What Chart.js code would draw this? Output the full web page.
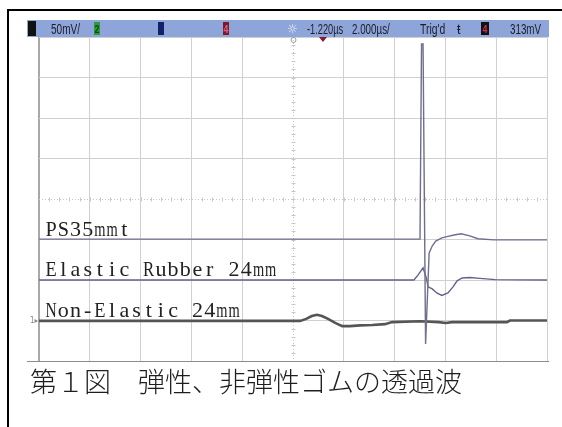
<!DOCTYPE html>
<html>
<head>
<meta charset="utf-8">
<script src="https://cdn.jsdelivr.net/npm/chart.js@4.4.0/dist/chart.umd.min.js"></script>
<style>
html, body { margin: 0; padding: 0; background: #fff; }
canvas { display: block; }
</style>
</head>
<body>
<canvas id="scopeChart" width="562" height="427"></canvas>
<script>
// trace values, in screen divisions (x: 0..10, y: -4..4)
let psX = [0, 7.50, 7.53, 7.56, 7.61, 7.68, 7.74, 7.81, 7.93, 8.03, 8.17, 8.31, 8.48, 8.64, 8.96, 9.17, 10];
let psY = [-0.99, -0.99, 3.83, 3.83, -3.58, -1.33, -1.16, -1.04, -0.96, -0.93, -0.89, -0.86, -0.91, -0.98, -1.01, -1.01, -1.01];
let elasticX = [0, 7.38, 7.46, 7.56, 7.62, 7.66, 7.74, 7.83, 7.93, 8.05, 8.15, 8.23, 8.33, 8.48, 8.68, 8.98, 10];
let elasticY = [-2.0, -2.0, -1.88, -1.70, -1.93, -2.17, -2.22, -2.32, -2.38, -2.32, -2.17, -2.02, -1.95, -1.94, -1.96, -1.99, -2.0];
let nonElasticX = [0, 5.14, 5.26, 5.37, 5.47, 5.57, 5.69, 5.83, 5.97, 6.12, 6.32, 6.56, 6.81, 6.95, 7.50, 7.87, 8.01, 8.13, 9.21, 9.27, 10];
let nonElasticY = [-3.01, -3.01, -2.96, -2.89, -2.86, -2.89, -2.96, -3.06, -3.14, -3.14, -3.12, -3.11, -3.09, -3.04, -3.02, -3.04, -3.06, -3.04, -3.04, -3.0, -3.0];

let traceLabels = ['PS35mmt', 'Elastic Rubber 24mm', 'Non-Elastic 24mm'];
let traceLevels = [-1, -2, -3];
let caption = '第１図　弾性、非弾性ゴムの透過波';
let triggerPos = 5.59;

function toPoints(xs, ys) {
	return xs.map(function (v, i) { return { x: v, y: ys[i] }; });
}

function drawText(ctx, text, x, y, font, color, sx) {
	ctx.save();
	ctx.font = font;
	ctx.fillStyle = color;
	ctx.textBaseline = 'alphabetic';
	ctx.translate(x, y);
	ctx.scale(sx || 1, 1);
	ctx.fillText(text, 0, 0);
	ctx.restore();
}

// serif text set on a fixed pitch, like the half-width mincho of the original
function drawMono(ctx, text, x, y, pitch) {
	ctx.save();
	ctx.font = '22px "Liberation Serif"';
	ctx.fillStyle = '#222';
	ctx.textAlign = 'center';
	ctx.textBaseline = 'alphabetic';
	for (var i = 0; i < text.length; i++) {
		var w = ctx.measureText(text[i]).width;
		var sx = w > pitch * 0.92 ? pitch * 0.92 / w : 1;
		ctx.save();
		ctx.translate(x + pitch * i + pitch / 2, y);
		ctx.scale(sx, 1);
		ctx.fillText(text[i], 0, 0);
		ctx.restore();
	}
	ctx.restore();
}

// oscilloscope screen decorations
var scopeDecor = {
	id: 'scopeDecor',
	beforeDatasetsDraw: function (chart) {
		var ctx = chart.ctx, xs = chart.scales.x, ys = chart.scales.y, a = chart.chartArea;
		var cx = Math.round(xs.getPixelForValue(5)) + 0.5;
		var cy = Math.round(ys.getPixelForValue(0)) + 0.5;
		ctx.save();
		ctx.strokeStyle = '#c8c8c8';
		ctx.lineWidth = 1;
		ctx.setLineDash([1, 2]);
		ctx.beginPath();
		ctx.moveTo(cx, a.top); ctx.lineTo(cx, a.bottom);
		ctx.moveTo(a.left, cy); ctx.lineTo(a.right, cy);
		ctx.stroke();
		ctx.setLineDash([]);
		ctx.beginPath();
		for (var i = 1; i < 50; i++) {
			var px = Math.round(xs.getPixelForValue(i / 5)) + 0.5;
			ctx.moveTo(px, cy - 2); ctx.lineTo(px, cy + 2);
		}
		for (var j = 1; j < 40; j++) {
			var py = Math.round(ys.getPixelForValue(-4 + j / 5)) + 0.5;
			ctx.moveTo(cx - 2, py); ctx.lineTo(cx + 2, py);
		}
		ctx.stroke();
		ctx.restore();
	},
	afterDatasetsDraw: function (chart) {
		var ctx = chart.ctx, xs = chart.scales.x, ys = chart.scales.y, a = chart.chartArea;
		// trace names
		traceLabels.forEach(function (t, i) {
			drawMono(ctx, t, a.left + 6, ys.getPixelForValue(traceLevels[i]) - 4, 12.2);
		});
		// ground marker
		drawText(ctx, '1▸', a.left - 9, ys.getPixelForValue(-3) + 2, '8px "DejaVu Sans"', '#8a8a8a', 0.9);

		// header bar
		ctx.save();
		ctx.fillStyle = '#8ea5d9';
		ctx.fillRect(27, 20, a.right + 2 - 27, 17);
		ctx.fillStyle = '#111';
		ctx.fillRect(28, 21, 8, 15);
		ctx.fillStyle = '#2f9a3a';
		ctx.fillRect(94, 22, 6, 13);
		ctx.fillStyle = '#13206a';
		ctx.fillRect(158, 22, 6, 13);
		ctx.fillStyle = '#7a1a2c';
		ctx.fillRect(223, 22, 6, 13);
		ctx.fillStyle = '#111';
		ctx.fillRect(481, 22, 8, 13);
		ctx.restore();
		var hf = '14px "Liberation Sans"', hc = '#1c1c2c';
		drawText(ctx, '50mV/', 51, 34, hf, hc, 0.72);
		drawText(ctx, '2', 94.5, 33, 'bold 11px "Liberation Sans"', '#0b4a14', 0.8);
		drawText(ctx, '4', 223.5, 33, 'bold 11px "Liberation Sans"', '#e0607a', 0.8);
		drawText(ctx, '☼', 287, 33, '12px "DejaVu Sans"', '#f2f2f2', 1);
		drawText(ctx, '-1.220µs', 307, 34, hf, hc, 0.66);
		drawText(ctx, '2.000µs/', 352, 34, hf, hc, 0.7);
		drawText(ctx, 'Trig\'d', 420, 34, hf, hc, 0.74);
		drawText(ctx, 'ŧ', 457, 34, hf, hc, 0.9);
		drawText(ctx, '4', 482.5, 33, 'bold 11px "Liberation Sans"', '#d0304e', 0.8);
		drawText(ctx, '313mV', 510, 34, hf, hc, 0.7);

		// trigger markers
		var cx = xs.getPixelForValue(5), tx = xs.getPixelForValue(triggerPos);
		ctx.save();
		ctx.strokeStyle = '#9a9a9a';
		ctx.lineWidth = 1;
		ctx.beginPath();
		ctx.arc(cx + 0.5, a.top + 3, 2.5, 0, Math.PI * 2);
		ctx.stroke();
		ctx.fillStyle = '#8b1a30';
		ctx.beginPath();
		ctx.moveTo(tx - 4, a.top);
		ctx.lineTo(tx + 4, a.top);
		ctx.lineTo(tx, a.top + 5);
		ctx.closePath();
		ctx.fill();

		// bottom line of screen
		var by = Math.round(ys.getPixelForValue(-4)) + 0.5;
		ctx.strokeStyle = '#8c8c8c';
		ctx.beginPath();
		ctx.moveTo(27, by); ctx.lineTo(a.right + 2, by);
		ctx.stroke();

		// outer frame
		ctx.fillStyle = '#000';
		ctx.fillRect(7, 9, 562 - 7, 2);
		ctx.fillRect(7, 9, 2, 427 - 9);
		ctx.restore();

		// caption
		drawText(ctx, caption, 30, 392, '300 27px "Noto Sans CJK JP"', '#1e1e1e', 1);
	}
};

var ctx = document.getElementById('scopeChart').getContext('2d');
var scopeChart = new Chart(ctx, {
	type: 'line',
	data: {
		datasets: [{
			label: traceLabels[0],
			data: toPoints(psX, psY),
			borderColor: '#6e6e90',
			borderWidth: 1.4
		}, {
			label: traceLabels[1],
			data: toPoints(elasticX, elasticY),
			borderColor: '#62628a',
			borderWidth: 1.4
		}, {
			label: traceLabels[2],
			data: toPoints(nonElasticX, nonElasticY),
			borderColor: '#555555',
			borderWidth: 2.6
		}]
	},
	options: {
		responsive: false,
		animation: false,
		elements: { point: { radius: 0 }, line: { tension: 0 } },
		layout: { padding: { left: 39, right: 15, top: 37, bottom: 66 } },
		scales: {
			x: {
				type: 'linear', min: 0, max: 10,
				ticks: { display: false, stepSize: 1 },
				border: { display: false },
				grid: {
					drawTicks: false,
					color: function (c) {
						if (c.tick.value === 0) return '#a8a8a8';
						if (c.tick.value === 5) return 'rgba(0,0,0,0)';
						return '#d0d0d0';
					},
					lineWidth: function (c) { return c.tick.value === 0 ? 2 : 1; }
				}
			},
			y: {
				type: 'linear', min: -4, max: 4,
				ticks: { display: false, stepSize: 1 },
				border: { display: false },
				grid: {
					drawTicks: false,
					color: function (c) {
						if (c.tick.value === 0 || c.tick.value === -4) return 'rgba(0,0,0,0)';
						return '#d0d0d0';
					}
				}
			}
		},
		plugins: {
			legend: { display: false },
			tooltip: { enabled: false }
		}
	},
	plugins: [scopeDecor]
});
</script>
</body>
</html>
